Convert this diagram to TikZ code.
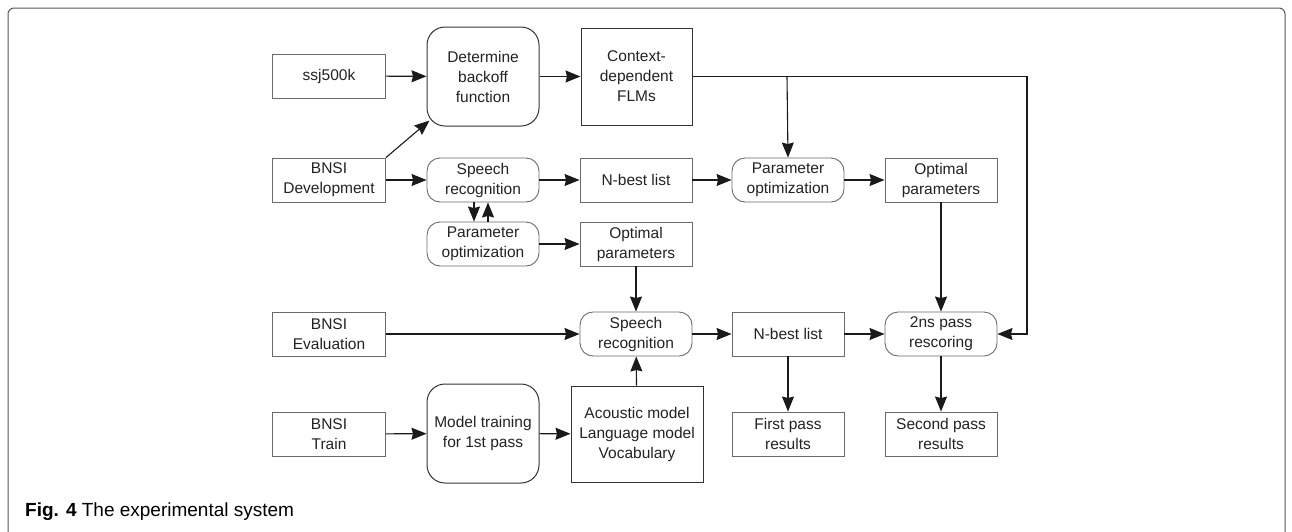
\documentclass[tikz,border=0pt]{standalone}
\usepackage{fontspec}
\setmainfont{Liberation Sans}
\usetikzlibrary{arrows.meta,calc}
\definecolor{txt}{HTML}{222222}
\definecolor{bord}{HTML}{6A6A6A}
\definecolor{dbord}{HTML}{333333}
\definecolor{lnc}{HTML}{1A1A1A}
\definecolor{frm}{HTML}{555555}
\begin{document}
\begin{tikzpicture}[x=1pt,y=-1pt,
  every node/.style={font=\fontsize{15.5}{20}\selectfont, text=txt, align=center, inner sep=0pt},
  sbox/.style={draw=bord, line width=0.9pt, minimum width=113pt, minimum height=44pt},
  dbox/.style={draw=dbord, line width=1pt},
  rbox/.style={draw=bord, line width=0.9pt, rounded corners=13pt, minimum width=112pt, minimum height=44pt},
  tbox/.style={draw=dbord, line width=1pt, rounded corners=18pt, minimum width=112pt, minimum height=99pt},
  conn/.style={draw=lnc, line width=1.1pt, -{Stealth[length=15pt,width=12pt,inset=1.5pt]}},
  plain/.style={draw=lnc, line width=1.1pt}]
\useasboundingbox (0,0) rectangle (1292,531);
\draw[frm, line width=1pt, rounded corners=6pt] (8,560) -- (8,8) -- (1285,8) -- (1285,560);

\node[sbox] (ssj) at (329,76) {ssj500k};
\node[tbox] (det) at (483,76.5) {Determine\\backoff\\function};
\node[sbox, dbox, minimum width=111pt, minimum height=97pt] (ctx) at (636.5,76.5) {Context-\\dependent\\FLMs};
\node[sbox] (dev) at (329,180) {BNSI\\Development};
\node[rbox] (sr1) at (483,180) {Speech\\recognition};
\node[sbox, minimum width=112pt] (nb1) at (636,180) {N-best list};
\node[rbox] (po1) at (788,180) {Parameter\\optimization};
\node[sbox, minimum width=112pt] (op1) at (941,180) {Optimal\\parameters};
\node[rbox] (po2) at (483,244) {Parameter\\optimization};
\node[sbox, minimum width=112pt] (op2) at (636,244) {Optimal\\parameters};
\node[sbox] (eva) at (329,334) {BNSI\\Evaluation};
\node[rbox] (sr2) at (636,334) {Speech\\recognition};
\node[sbox, minimum width=112pt] (nb2) at (788,334) {N-best list};
\node[rbox] (resc) at (941,334) {2ns pass\\rescoring};
\node[sbox] (trn) at (329,434) {BNSI\\Train};
\node[tbox] (mt) at (483,433.5) {Model training\\for 1st pass};
\node[sbox, dbox, minimum width=132pt, minimum height=96pt] (ac) at (637,434) {Acoustic model\\Language model\\Vocabulary};
\node[sbox, minimum width=112pt] (fpr) at (788,434) {First pass\\results};
\node[sbox, minimum width=112pt] (spr) at (941,434) {Second pass\\results};

\coordinate (rc) at (1027,76.5);
\coordinate (rb) at (1027,334);
\coordinate (br) at (787,76.5);

\draw[conn] (ssj) -- (det);
\draw[conn] (det) -- (ctx);
\draw[conn] (dev.north east) -- ([xshift=3pt,yshift=6pt]det.south west);
\draw[conn] (dev) -- (sr1);
\draw[conn] (sr1) -- (nb1);
\draw[conn] (nb1) -- (po1);
\draw[conn] (po1) -- (op1);
\draw[conn] (ctx.east) -- (rc) -- (rb) -- (resc.east);
\draw[conn] (br) -- (po1.north);
\draw[conn] ([xshift=-9pt]sr1.south) -- ([xshift=-9pt]po2.north);
\draw[conn] ([xshift=5pt]po2.north) -- ([xshift=5pt]sr1.south);
\draw[conn] (po2) -- (op2);
\draw[conn] (op2) -- (sr2);
\draw[conn, line width=1.8pt] (eva) -- (sr2);
\draw[conn] (trn) -- (mt);
\draw[conn] (mt) -- (ac);
\draw[conn] (ac) -- (sr2);
\draw[conn] (sr2) -- (nb2);
\draw[conn] (nb2) -- (resc);
\draw[conn] (op1) -- (resc);
\draw[conn] (nb2) -- (fpr);
\draw[conn] (resc) -- (spr);

\node[anchor=base west, font=\fontsize{19}{22}\selectfont, text=black] (cap) at (25,516) {\textbf{Fig. 4} The experimental system};
\end{tikzpicture}
\end{document}
